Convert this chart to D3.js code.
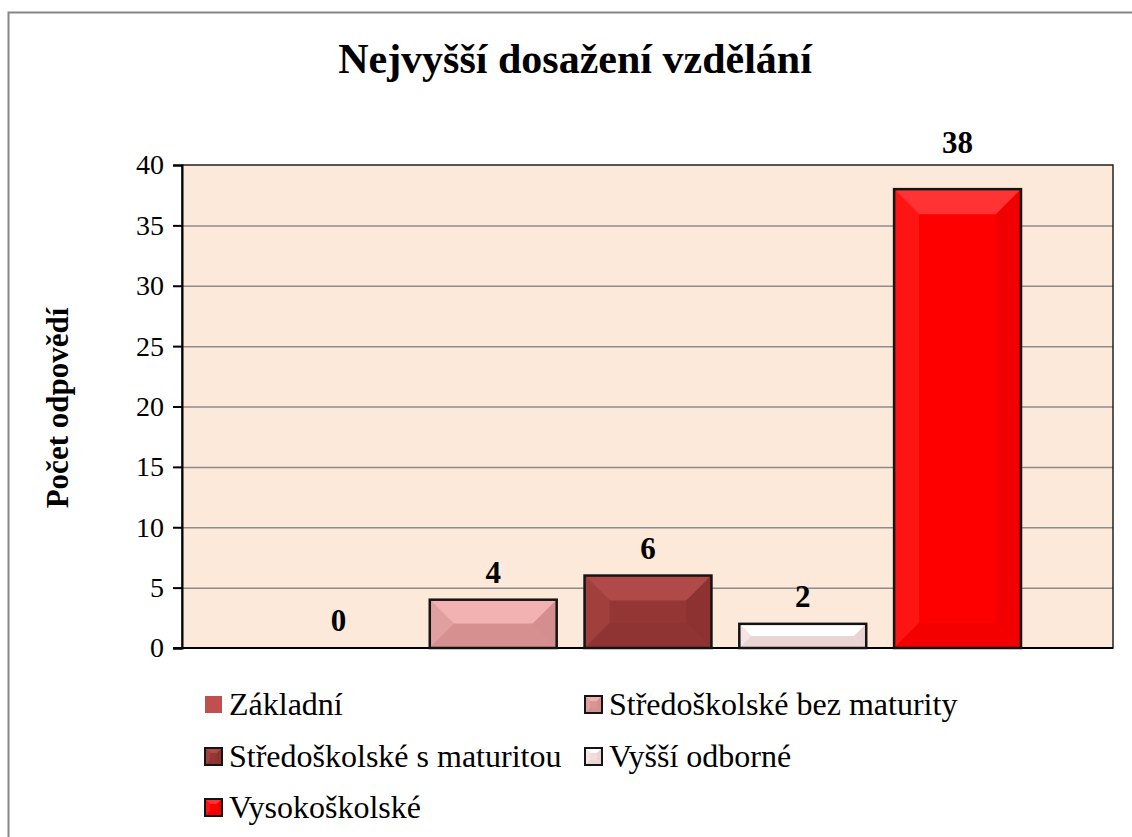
<!DOCTYPE html>
<html><head><meta charset="utf-8">
<script src="https://cdn.jsdelivr.net/npm/d3@7"></script>
<style>html,body{margin:0;padding:0;background:#fff;}svg{display:block;}</style>
</head><body>
<svg id="c" width="1132" height="837"></svg>
<script>
const title = "Nejvyšší dosažení vzdělání";
const yTitle = "Počet odpovědí";
const series = ["Základní", "Středoškolské bez maturity", "Středoškolské s maturitou", "Vyšší odborné", "Vysokoškolské"];
const values = [0, 4, 6, 2, 38];
const baseColors = ["#C0504D", "#D99594", "#943634", "#F2DCDB", "#FF0000"];
const topColors = ["#D9706D", "#F2B2B2", "#B04A48", "#FFFFFF", "#FF3333"];
const leftColors = ["#CA5D5A", "#E0A09F", "#A13F3D", "#F6E4E4", "#FF1414"];
const rightColors = ["#B04A47", "#D48E8D", "#8C3230", "#EAD3D2", "#F00000"];
const bottomColors = ["#B84C49", "#D5908F", "#8F3432", "#EBD5D4", "#F50000"];
const yTicks = [0, 5, 10, 15, 20, 25, 30, 35, 40];

const svg = d3.select("#c");
const plot = {l: 182, r: 1113, t: 165, b: 648};
const serif = "Liberation Serif, Times New Roman, serif";

svg.append("path").attr("d", `M8.5,837 L8.5,12.5 L1132,12.5`).attr("fill", "none")
  .attr("stroke", "#868686").attr("stroke-width", 2);

const y = d3.scaleLinear().domain([0, 40]).range([plot.b, plot.t]);
const x = d3.scaleBand().domain(series).range([275, 1021]).paddingInner(0.18);

svg.append("rect").attr("x", plot.l).attr("y", plot.t).attr("width", plot.r - plot.l).attr("height", plot.b - plot.t)
  .attr("fill", "#FDE9D9");

svg.append("g").selectAll("line").data(yTicks.filter(t => t > 0 && t < 40)).join("line")
  .attr("x1", plot.l).attr("x2", plot.r).attr("y1", d => y(d) + 0.5).attr("y2", d => y(d) + 0.5)
  .attr("stroke", "#8C8C8C").attr("stroke-width", 1.5);

svg.append("rect").attr("x", plot.l).attr("y", plot.t).attr("width", plot.r - plot.l).attr("height", plot.b - plot.t)
  .attr("fill", "none").attr("stroke", "#222").attr("stroke-width", 1.5);

const yAxis = d3.axisLeft(y).tickValues(yTicks).tickSize(9).tickPadding(9);
const ga = svg.append("g").attr("transform", `translate(${plot.l},0)`).call(yAxis);
ga.select(".domain").attr("stroke", "#000").attr("stroke-width", 2);
ga.selectAll(".tick line").attr("stroke", "#000").attr("stroke-width", 2);
ga.selectAll(".tick text").attr("font-family", serif).attr("font-size", 28).attr("fill", "#000");
svg.append("line").attr("x1", plot.l - 9).attr("x2", plot.r).attr("y1", plot.b).attr("y2", plot.b)
  .attr("stroke", "#000").attr("stroke-width", 2);

function bevel(g, x0, y0, w, h, i, bMax, sw) {
  const b = Math.min(bMax, h / 2, w / 2);
  const x1 = x0 + w, y1 = y0 + h;
  g.append("rect").attr("x", x0).attr("y", y0).attr("width", w).attr("height", h).attr("fill", baseColors[i]);
  const poly = (pts, c) => g.append("polygon").attr("points", pts.map(p => p.join(",")).join(" ")).attr("fill", c);
  poly([[x0, y0], [x1, y0], [x1 - b, y0 + b], [x0 + b, y0 + b]], topColors[i]);
  poly([[x0, y0], [x0 + b, y0 + b], [x0 + b, y1 - b], [x0, y1]], leftColors[i]);
  poly([[x1, y0], [x1, y1], [x1 - b, y1 - b], [x1 - b, y0 + b]], rightColors[i]);
  poly([[x0, y1], [x0 + b, y1 - b], [x1 - b, y1 - b], [x1, y1]], bottomColors[i]);
  g.append("rect").attr("x", x0).attr("y", y0).attr("width", w).attr("height", h)
    .attr("fill", "none").attr("stroke", "#141414").attr("stroke-width", sw);
}

const bars = svg.append("g");
series.forEach((s, i) => {
  if (values[i] <= 0) return;
  const h = y(0) - y(values[i]);
  bevel(bars.append("g"), x(s), y(values[i]), x.bandwidth(), h, i, 25, 2.5);
});

series.forEach((s, i) => {
  let by = y(values[i]) - 17;
  if (by - 22 < plot.t) by = plot.t - 12;
  svg.append("text").attr("x", x(s) + x.bandwidth() / 2).attr("y", by)
    .attr("text-anchor", "middle").attr("font-family", serif)
    .attr("font-weight", "bold").attr("font-size", 31).text(values[i]);
});

svg.append("text").attr("x", 575).attr("y", 73).attr("text-anchor", "middle")
  .attr("font-family", serif).attr("font-weight", "bold").attr("font-size", 42).text(title);

svg.append("text").attr("transform", "translate(68,408) rotate(-90)").attr("text-anchor", "middle")
  .attr("font-family", serif).attr("font-weight", "bold").attr("font-size", 31).text(yTitle);

const legPos = [[205, 704], [585, 704], [205, 756], [585, 756], [205, 807]];
series.forEach((s, i) => {
  const [lx, ly] = legPos[i];
  const g = svg.append("g");
  if (i === 0) {
    g.append("rect").attr("x", lx).attr("y", ly - 8).attr("width", 17).attr("height", 17).attr("fill", baseColors[0]);
  } else {
    bevel(g, lx, ly - 8, 17, 17, i, 5, 2);
  }
  svg.append("text").attr("x", lx + 24).attr("y", ly + 11)
    .attr("font-family", serif).attr("font-size", 32).text(s);
});
</script>
</body></html>
